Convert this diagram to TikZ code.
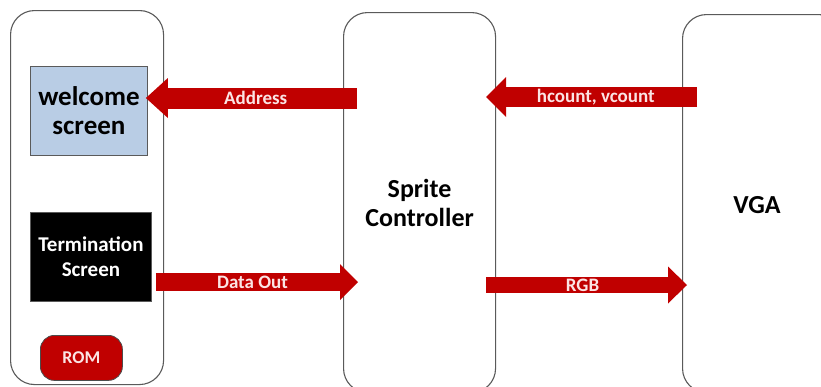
\documentclass[tikz,border=0pt]{standalone}
\usepackage{fontspec}
\setmainfont{Carlito}
\usetikzlibrary{arrows.meta,positioning,calc}
\definecolor{bred}{HTML}{C00000}
\definecolor{lblue}{HTML}{B9CDE5}
\definecolor{edge}{HTML}{5A5A5A}
\definecolor{lbl}{HTML}{FBE4E4}
\tikzset{
  block/.style={draw=edge, line width=1.1pt, rounded corners=24pt, fill=white},
  inner/.style={draw=edge, line width=0.9pt, align=center, font=\bfseries, inner sep=0pt},
  fat/.style={draw=bred, line width=#1},
  albl/.style={text=lbl, font=\fontsize{19}{21}\selectfont\bfseries, inner sep=0pt},
}
\begin{document}
\begin{tikzpicture}[x=1pt,y=-1pt]
\clip (0,0) rectangle (821,386);
\fill[white] (0,0) rectangle (821,386);
% big blocks
\node[block, minimum width=153pt, minimum height=374pt, anchor=north west] (mem) at (10,10) {};
\node[block, minimum width=152pt, minimum height=380pt, anchor=north west, align=center,
      font=\fontsize{26}{29}\selectfont\bfseries] (ctrl) at (343,12) {Sprite\\Controller};
\node[block, minimum width=160pt, minimum height=378pt, anchor=north west] (vga) at (682,14) {};
\node[font=\fontsize{26}{29}\selectfont\bfseries] (vgat) at (757,205) {VGA};
% inner boxes
\node[inner, fill=lblue, minimum width=117pt, minimum height=89pt, anchor=north west,
      font=\fontsize{27}{29}\selectfont\bfseries] (wel) at (30,66) {welcome\\screen};
\node[inner, fill=black, text=white, minimum width=121pt, minimum height=89pt, anchor=north west,
      font=\fontsize{21}{25}\selectfont\bfseries] (term) at (30,212) {Termination\\Screen};
\node[draw=black!70, line width=0.8pt, fill=bred, text=lbl, rounded corners=14pt, minimum width=82pt,
      minimum height=45pt, anchor=north west, inner sep=0pt,
      font=\fontsize{18}{20}\selectfont\bfseries] (rom) at (40,335) {ROM};
% arrow ends
\coordinate (addrS) at (357,98);
\coordinate (dataE) at (358,282);
\coordinate (hvS) at (697,97);
\coordinate (rgbE) at (687,285);
% arrows
\draw[fat=21pt, -{Triangle[length=22pt,width=40pt,line width=0pt]}] (addrS) -- ([xshift=-2pt]wel.east |- addrS)
  node[albl, pos=0.48] {Address};
\draw[fat=18pt, -{Triangle[length=18pt,width=36pt,line width=0pt]}] ([xshift=4pt]term.east |- dataE) -- (dataE)
  node[albl, pos=0.478] {Data Out};
\draw[fat=20pt, -{Triangle[length=20pt,width=40pt,line width=0pt]}] (hvS) -- ([xshift=-10pt]ctrl.east |- hvS)
  node[albl, pos=0.48] {hcount, vcount};
\draw[fat=16pt, -{Triangle[length=19pt,width=37pt,line width=0pt]}] ([xshift=-10pt]ctrl.east |- rgbE) -- (rgbE)
  node[albl, pos=0.48] {RGB};
\end{tikzpicture}
\end{document}
